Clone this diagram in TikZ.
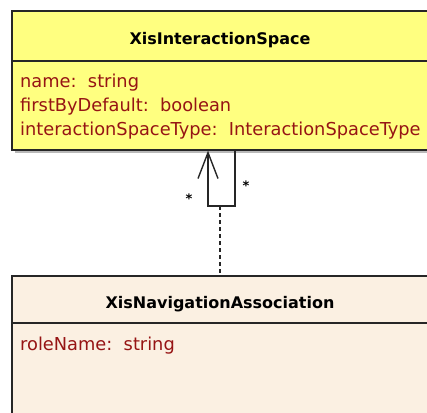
\documentclass[tikz,border=0pt]{standalone}
\usepackage{fontspec}
\setmainfont{DejaVu Sans}
\usetikzlibrary{positioning,arrows.meta}
\definecolor{spacefill}{RGB}{255,255,128}
\definecolor{assocfill}{RGB}{251,240,226}
\definecolor{attrred}{RGB}{150,20,20}
\definecolor{shadowgrey}{RGB}{185,185,185}

\begin{document}
\begin{tikzpicture}
		[x=1pt,y=-1pt,
		classbox/.style={rectangle,draw=black!85,line width=1.6pt,inner sep=0pt,minimum width=419pt,anchor=north west},
		divider/.style={draw=black!85,line width=1.6pt},
		classname/.style={font=\fontsize{16}{19}\selectfont\bfseries,anchor=base,inner sep=0pt},
		attr/.style={font=\fontsize{17.8}{24}\selectfont,text=attrred,anchor=base west,inner sep=0pt},
		mult/.style={font=\fontsize{13}{13}\selectfont\bfseries,anchor=base,inner sep=0pt},
		assoc/.style={draw=black!85,line width=1.4pt}]
		\useasboundingbox (0,0) rectangle (427,412);

		% XisInteractionSpace
		\fill [shadowgrey] (15,14) rectangle (434,153);
		\node [classbox,fill=spacefill,minimum height=139pt] (space) at (11,10) {};
		\draw [divider] (space.north west) ++(0,51) -- ++(419,0);
		\node [classname] (spacename) at (220,45) {XisInteractionSpace};
		\node [attr] (attr1) at (20,87) {name:\ \ string};
		\node [attr] (attr2) at (20,111) {firstByDefault:\ \ boolean};
		\node [attr] (attr3) at (20,135) {interactionSpaceType:\ \ InteractionSpaceType};

		% XisNavigationAssociation
		\fill [shadowgrey] (15,279) rectangle (434,440);
		\node [classbox,fill=assocfill,minimum height=160pt] (navassoc) at (11,275) {};
		\draw [divider] (navassoc.north west) ++(0,48) -- ++(419,0);
		\node [classname] (navname) at (220,308) {XisNavigationAssociation};
		\node [attr] (attr4) at (20,350) {roleName:\ \ string};

		% self association with its association class
		\coordinate (loopL) at (208,206);
		\coordinate (loopR) at (235,206);
		\coordinate (loopmid) at (220,206);
		\draw [assoc,-{Straight Barb[length=26pt,width=20pt]}] (space.south -| loopR) -- (loopR) -- (loopL) -- (space.south -| loopL);
		\node [mult] (multL) at (189,203) {*};
		\node [mult] (multR) at (246,190) {*};
		\draw [assoc,dash pattern=on 4pt off 3pt] (loopmid) -- (navassoc.north -| loopmid);
	\end{tikzpicture}
\end{document}
